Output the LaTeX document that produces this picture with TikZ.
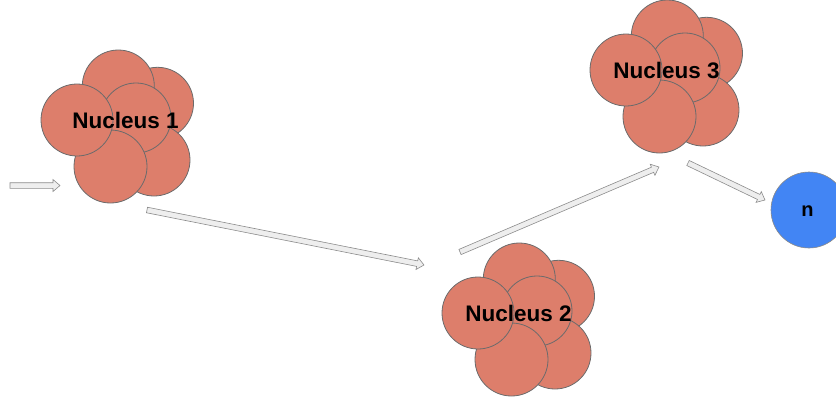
\documentclass[tikz,border=0pt]{standalone}
\usepackage{fontspec}
\setmainfont{Liberation Sans}
\usetikzlibrary{calc}

\definecolor{nucfill}{HTML}{DD7E6B}
\definecolor{nucline}{HTML}{6B6B6B}
\definecolor{neutron}{HTML}{4285F4}
\definecolor{arrowfill}{HTML}{EEEEEE}
\definecolor{arrowline}{HTML}{8C8C8C}

\tikzset{
  ball/.style={circle, draw=nucline, fill=nucfill, line width=0.8pt, inner sep=0pt},
  nuclabel/.style={inner sep=0pt, font=\fontsize{22.5}{26}\selectfont\bfseries},
  neutronball/.style={circle, draw=nucline!80, fill=neutron, line width=0.6pt, inner sep=0pt,
    minimum size=76, font=\fontsize{20}{24}\selectfont\bfseries},
  arrowbox/.style={draw=arrowline, fill=arrowfill, line width=0.6pt, line join=miter},
  pics/cluster/.style={code={
    \node[ball, minimum size=72] (-ur) at (80.5,-16.7) {};
    \node[ball, minimum size=72] (-t)  at (41.3,-34) {};
    \node[ball, minimum size=72] (-lr) at (77,40) {};
    \node[ball, minimum size=70] (-c)  at (59,-2) {};
    \node[ball, minimum size=73] (-b)  at (33.5,46.5) {};
    \node[ball, minimum size=72] (-l)  at (0,0) {};
  }}
}

% hollow block arrow between two named points
\newcommand\blockarrow[2]{%
  \draw[arrowbox]
    ($(#1)!2.8pt!90:(#2)$)
    -- ($(#2)!7pt!(#1)!2.8pt!-90:(#1)$)
    -- ($(#2)!7pt!(#1)!6pt!-90:(#1)$)
    -- (#2)
    -- ($(#2)!7pt!(#1)!6pt!90:(#1)$)
    -- ($(#2)!7pt!(#1)!2.8pt!90:(#1)$)
    -- ($(#1)!2.8pt!-90:(#2)$)
    -- cycle;}

\begin{document}
\begin{tikzpicture}[x=1pt, y=-1pt]
  \useasboundingbox (0,0) rectangle (836,402);

  % three fragment clusters
  \pic (n1) at (77,120) {cluster};
  \pic (n2) at (478,313) {cluster};
  \pic (n3) at (626,70) {cluster};

  \node[nuclabel] (t1) at (125.5,120) {Nucleus 1};
  \node[nuclabel] (t2) at (518.5,313) {Nucleus 2};
  \node[nuclabel] (t3) at (666.5,70) {Nucleus 3};

  % emitted neutron
  \node[neutronball] (nn) at (809,210) {};
  \node[inner sep=0pt, font=\fontsize{20}{24}\selectfont\bfseries] (nt) at (807.5,211) {n};

  % arrow end points
  \coordinate (a1s) at (10,185.5);  \coordinate (a1e) at (60,185.5);
  \coordinate (a2s) at (147,210);   \coordinate (a2e) at (424,265);
  \coordinate (a3s) at (460,252);   \coordinate (a3e) at (659,167);
  \coordinate (a4s) at (688,163);   \coordinate (a4e) at (765,200);

  \blockarrow{a1s}{a1e}
  \blockarrow{a2s}{a2e}
  \blockarrow{a3s}{a3e}
  \blockarrow{a4s}{a4e}
\end{tikzpicture}
\end{document}
